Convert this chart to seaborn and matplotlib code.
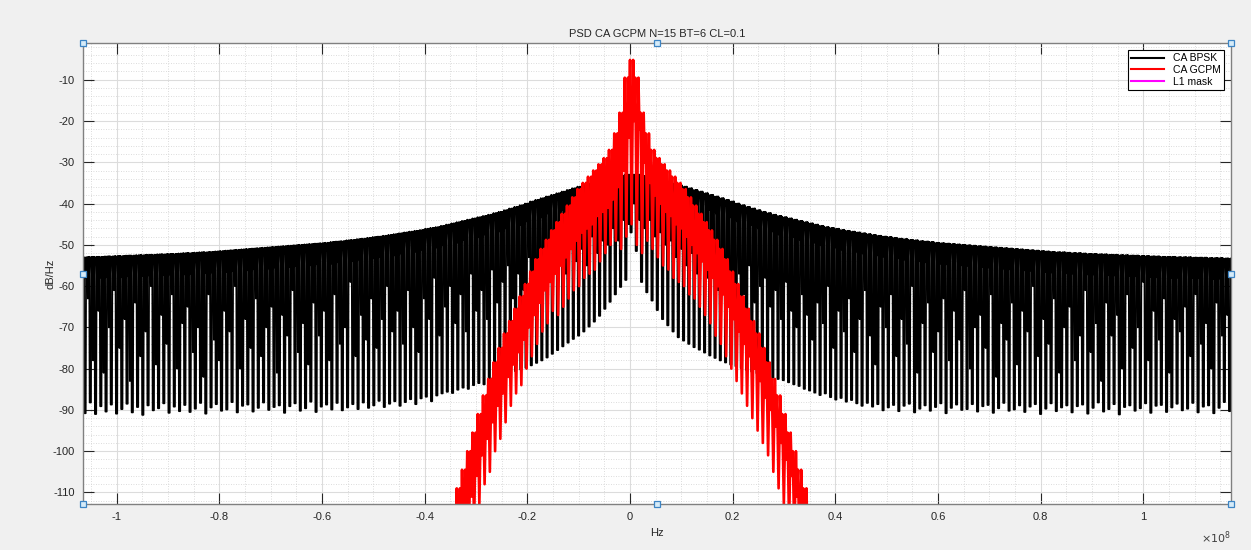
import numpy as np
import pandas as pd
import matplotlib
matplotlib.use("Agg")
import matplotlib.pyplot as plt
import seaborn as sns

# line spacing of the C/A spectrum (Hz) and tooth indices shown
LINE_SPACING = 1.023e6
black_k = list(range(-105, 116))
red_k = list(range(-34, 35))

# CA BPSK: upper level of each spectral line, by |k| (dB/Hz)
black_top_half = [
    -33.0, -33.0, -33.3, -33.6, -34.0, -34.2, -34.5, -34.8, -35.1, -35.5, -35.9,
    -36.3, -36.7, -37.1, -37.5, -37.9, -38.3, -38.7, -39.1, -39.5, -40.0,
    -40.4, -40.8, -41.2, -41.6, -42.0, -42.3, -42.7, -43.0, -43.3, -43.6,
    -43.9, -44.2, -44.5, -44.8, -45.1, -45.4, -45.7, -45.9, -46.1, -46.4,
    -46.6, -46.8, -47.0, -47.2, -47.4, -47.6, -47.8, -48.0, -48.1, -48.3,
    -48.5, -48.6, -48.8, -48.9, -49.1, -49.2, -49.3, -49.5, -49.6, -49.7,
    -49.8, -49.9, -50.0, -50.1, -50.2, -50.3, -50.4, -50.5, -50.6, -50.7,
    -50.8, -50.9, -51.0, -51.1, -51.2, -51.3, -51.4, -51.5, -51.6, -51.7,
    -51.8, -51.8, -51.9, -52.0, -52.0, -52.1, -52.2, -52.2, -52.3, -52.3,
    -52.4, -52.4, -52.5, -52.5, -52.6, -52.6, -52.7, -52.7, -52.8, -52.8,
    -52.9, -52.9, -52.9, -53.0, -53.0, -53.0, -53.1, -53.1, -53.1, -53.2,
    -53.2, -53.2, -53.3, -53.3, -53.3,
]
# lower edge of the solid band under the top level, by |k|
black_band_half = [
    -36.0, -36.2, -36.6, -37.0, -37.4, -37.7, -38.1, -38.5, -38.9, -39.4, -39.9,
    -40.3, -40.8, -41.2, -41.7, -42.1, -42.6, -43.0, -43.5, -43.9, -44.5,
    -44.9, -45.3, -45.7, -46.2, -46.6, -46.9, -47.3, -47.7, -48.0, -48.3,
    -48.6, -49.0, -49.3, -49.6, -50.0, -50.3, -50.6, -50.8, -51.1, -51.4,
    -51.6, -51.8, -52.0, -52.3, -52.5, -52.7, -52.9, -53.1, -53.2, -53.4,
    -53.6, -53.8, -54.0, -54.1, -54.3, -54.4, -54.5, -54.7, -54.8, -54.9,
    -55.0, -55.1, -55.2, -55.3, -55.4, -55.5, -55.6, -55.7, -55.8, -55.9,
    -56.0, -56.1, -56.2, -56.3, -56.4, -56.5, -56.6, -56.7, -56.8, -56.9,
    -57.0, -57.0, -57.1, -57.2, -57.2, -57.3, -57.4, -57.4, -57.5, -57.5,
    -57.6, -57.6, -57.7, -57.7, -57.8, -57.8, -57.9, -57.9, -58.0, -58.0,
    -58.1, -58.1, -58.1, -58.2, -58.2, -58.2, -58.3, -58.3, -58.3, -58.4,
    -58.4, -58.4, -58.5, -58.5, -58.5,
]
# deep notch of each line, k = -105 .. 115
black_deep = [
    -89.5, -90.8, -88.2, -91.0, -89.1, -90.4, -88.7, -90.9, -89.8, -88.5, -90.6, -89.3, -91.2, -88.9, -90.1, -89.6, -88.4, -90.7, -89.2, -90.3,
    -88.8, -90.5, -89.7, -88.3, -90.9, -89.4, -88.6, -90.2, -89.9, -88.1, -90.6, -89.0, -88.7, -90.4, -89.5, -88.2, -90.0, -89.3, -88.9, -90.7,
    -89.1, -88.4, -90.2, -89.6, -88.0, -90.5, -89.2, -88.7, -89.9, -88.3, -90.1, -89.4, -88.6, -89.8, -88.2, -89.5, -88.9, -87.8, -89.3, -88.5,
    -87.9, -89.0, -88.1, -87.4, -88.6, -87.2, -86.8, -87.9, -86.5, -86.0, -85.6, -85.9, -85.1, -84.6, -84.9, -84.0, -83.5, -83.8, -83.0, -82.4,
    -82.0, -81.5, -81.1, -80.6, -80.2, -79.8, -79.2, -78.6, -78.0, -77.3, -76.4, -75.5, -74.6, -73.7, -72.8, -72.0, -71.0, -69.8, -68.6, -67.2,
    -65.5, -63.8, -62.0, -60.2, -58.5, -47.0, -51.5, -59.0, -61.5, -63.5, -65.8,
    -68.0, -69.5, -71.0, -72.4, -73.2, -74.0, -74.8, -75.4, -76.1, -76.8, -77.4, -78.0, -78.5, -79.0, -79.4, -79.9, -80.3, -80.7, -81.1, -81.5,
    -81.9, -82.2, -82.5, -82.8, -83.3, -83.8, -84.2, -84.9, -85.3, -85.8, -86.4, -86.0, -86.9, -87.5, -87.1, -88.0, -87.6, -88.4, -89.0, -88.3,
    -89.2, -88.6, -90.1, -89.4, -88.8, -90.3, -89.0, -88.5, -90.6, -89.7, -88.9, -90.2, -89.3, -88.4, -90.8, -89.5, -88.7, -90.0, -89.8, -88.6,
    -90.4, -89.1, -88.8, -90.7, -89.6, -88.3, -90.2, -89.9, -88.9, -90.5, -89.2, -88.6, -91.0, -89.7, -88.4, -90.3, -89.4, -88.9, -90.6, -89.1,
    -88.7, -90.9, -89.5, -88.2, -90.4, -89.8, -88.6, -91.1, -89.3, -88.9, -90.2, -89.6, -88.4, -90.7, -89.0, -88.8, -90.5, -89.4, -88.5, -90.1,
    -89.7, -88.3, -90.6, -89.2, -88.9, -90.8, -89.5, -88.1, -90.3, -89.6,
]
# secondary (shallower) notch of each line, k = -105 .. 115
black_shallow = [
    -72, -63, -78, -66, -81, -70, -61, -75, -68, -83, -64, -77, -71, -60, -79, -67, -74, -62, -80, -69,
    -65, -76, -70, -82, -62, -73, -78, -66, -71, -60, -80, -68, -75, -63, -77, -70, -65, -81, -67, -72,
    -61, -76, -69, -79, -64, -72, -66, -78, -62, -74, -70, -59, -77, -67, -73, -63, -75, -68, -60, -71,
    -66, -74, -61, -70, -76, -63, -68, -58, -72, -65, -60, -69, -62, -71, -57, -66, -61, -68, -56, -64,
    -59, -55, -63, -57, -61, -53, -58, -55, -60, -51, -56, -53, -57, -50, -54, -51, -55, -48, -52, -49,
    -50, -46, -49, -44, -45, -40, -44, -46, -44, -48, -47,
    -50, -49, -53, -51, -55, -52, -57, -54, -58, -55, -61, -56, -59, -63, -57, -62, -55, -64, -60, -58,
    -65, -61, -68, -59, -66, -70, -62, -67, -73, -64, -69, -60, -75, -66, -71, -63, -76, -68, -61, -72,
    -79, -65, -70, -62, -77, -68, -74, -60, -81, -69, -64, -76, -71, -63, -78, -66, -73, -61, -80, -70,
    -67, -75, -62, -82, -69, -73, -64, -79, -66, -71, -60, -77, -68, -74, -63, -81, -70, -65, -78, -72,
    -61, -76, -69, -83, -64, -72, -67, -80, -62, -75, -70, -59, -78, -66, -73, -63, -81, -68, -71, -65,
    -77, -62, -74, -69, -80, -64, -72, -67, -79, -70,
]

# CA GCPM: upper level by |k|, then notches for k = -34 .. 34
red_top_half = [
    -5.2, -9.5, -18.0, -23.0, -27.0, -29.0, -30.5, -32.0, -33.5, -35.0,
    -36.5, -38.5, -40.5, -42.5, -44.5, -46.5, -48.8, -51.0, -53.5, -56.5,
    -59.5, -62.5, -65.5, -68.5, -71.5, -75.0, -78.5, -82.5, -86.5, -91.0,
    -95.5, -100.0, -104.5, -109.0, -113.5,
]
red_deep = [
    -132, -128, -125, -121, -118, -113, -108, -105, -100, -97,
    -93, -89, -86, -84, -80, -77, -74, -71, -69, -66,
    -67, -65, -63, -61, -60, -58, -57, -56, -54, -52,
    -50, -49, -51, -48, -45, -50, -52, -49, -51,
    -53, -55, -56, -58, -59, -60, -62, -63, -65, -67,
    -69, -72, -74, -77, -80, -83, -86, -89, -92, -95,
    -98, -101, -105, -109, -113, -118, -122, -126, -129, -133,
]
red_shallow = [
    -124, -120, -115, -111, -106, -101, -97, -93, -89, -86,
    -82, -79, -76, -73, -70, -67, -64, -61, -59, -57,
    -55, -53, -51, -49, -47, -46, -45, -43, -42, -41,
    -39, -36, -32, -24, -20, -22, -30, -35, -38,
    -40, -42, -43, -45, -46, -48, -50, -52, -54, -56,
    -58, -60, -62, -65, -68, -71, -74, -77, -80, -83,
    -87, -90, -94, -98, -102, -106, -111, -115, -120, -124,
]

# L1 mask lies outside the visible window
l1_mask_freq = []
l1_mask_db = []

x_ticks = [-1, -0.8, -0.6, -0.4, -0.2, 0, 0.2, 0.4, 0.6, 0.8, 1]
x_tick_labels = ["-1", "-0.8", "-0.6", "-0.4", "-0.2", "0", "0.2", "0.4", "0.6", "0.8", "1"]
y_ticks = [-110, -100, -90, -80, -70, -60, -50, -40, -30, -20, -10]


def black_trace():
    f, p = [], []
    for i, k in enumerate(black_k):
        top = black_top_half[abs(k)]
        band = black_band_half[abs(k)]
        # flat-bottomed notch, a short band wiggle, then the thin secondary notch
        steps = [(0.0, top), (0.08, black_deep[i]), (0.32, black_deep[i]), (0.4, top),
                 (0.53, band), (0.66, top), (0.74, black_shallow[i]), (0.82, top),
                 (0.91, band)]
        for frac, val in steps:
            f.append((k + frac) * LINE_SPACING)
            p.append(val)
    return pd.DataFrame({"Hz": f, "dB": p})


def red_trace():
    f, p = [], []
    for i, k in enumerate(red_k):
        top = red_top_half[abs(k)]
        steps = [(0.0, top), (0.3, red_deep[i]), (0.6, top), (0.8, red_shallow[i])]
        for frac, val in steps:
            f.append((k + frac) * LINE_SPACING)
            p.append(val)
    return pd.DataFrame({"Hz": f, "dB": p})


plt.rcParams["font.family"] = ["Liberation Sans", "DejaVu Sans"]
plt.rcParams["axes.unicode_minus"] = False
# keep every notch: no path simplification on the dense traces
plt.rcParams["path.simplify"] = False
fig, ax = plt.subplots(figsize=(12.51, 5.5), dpi=100)
fig.patch.set_facecolor("#f0f0f0")
fig.subplots_adjust(left=0.0663, right=0.984, top=0.9218, bottom=0.0836)
ax.set_facecolor("white")

sns.lineplot(data=black_trace(), x="Hz", y="dB", sort=False, estimator=None,
             color="black", linewidth=1.3, ax=ax, label="CA BPSK")
sns.lineplot(data=red_trace(), x="Hz", y="dB", sort=False, estimator=None,
             color="#ff0000", linewidth=1.9, ax=ax, label="CA GCPM")
ax.plot(l1_mask_freq, l1_mask_db, color="#ff00ff", linewidth=1.5, label="L1 mask")

ax.set_xlim(-1.066e8, 1.171e8)
ax.set_ylim(-112.8, -1.1)
ax.set_xticks(np.array(x_ticks) * 1e8)
ax.set_xticklabels(x_tick_labels)
ax.set_yticks(y_ticks)
ax.set_xticks(np.arange(-1.05, 1.2, 0.05) * 1e8, minor=True)
ax.set_yticks(np.arange(-112, 0, 2), minor=True)

ax.grid(True, which="major", color="#dcdcdc", linewidth=0.8)
ax.grid(True, which="minor", color="#d0d0d0", linewidth=0.6, linestyle=(0, (1, 2)))
ax.set_axisbelow(True)
ax.tick_params(which="major", direction="in", length=8, width=0.8, top=True, right=True,
               labelsize=8, colors="#262626", pad=6)
ax.tick_params(which="minor", length=0, top=True, right=True)
for side in ax.spines.values():
    side.set_color("#808080")
    side.set_linewidth(1.0)

ax.set_title("PSD CA GCPM N=15 BT=6 CL=0.1", fontsize=8, color="#262626", pad=4)
ax.set_xlabel("Hz", fontsize=8, color="#262626", labelpad=4)
ax.set_ylabel("dB/Hz", fontsize=8, color="#262626", labelpad=-2)
ax.text(1.0, -0.055, r"$\times10^{8}$", transform=ax.transAxes, ha="right", va="top",
        fontsize=8, color="#404040")

leg = ax.legend(loc="upper right", fontsize=7.5, frameon=True, fancybox=False,
                edgecolor="black", framealpha=1, handlelength=3.2, borderaxespad=0.7,
                labelspacing=0.15, borderpad=0.3)
leg.get_frame().set_linewidth(0.8)
for line in leg.get_lines():
    line.set_linewidth(1.5)

# selection handles of the original figure editor
handle_pos = [(0, 1), (0.5, 1), (1, 1), (0, 0.5), (1, 0.5), (0, 0), (0.5, 0), (1, 0)]
for hx, hy in handle_pos:
    ax.plot(hx, hy, marker="s", markersize=4.5, markerfacecolor="#d6ebf8",
            markeredgecolor="#3c84c4", markeredgewidth=0.9, transform=ax.transAxes,
            clip_on=False, zorder=10)

fig.savefig("out.png", dpi=100, facecolor=fig.get_facecolor())
